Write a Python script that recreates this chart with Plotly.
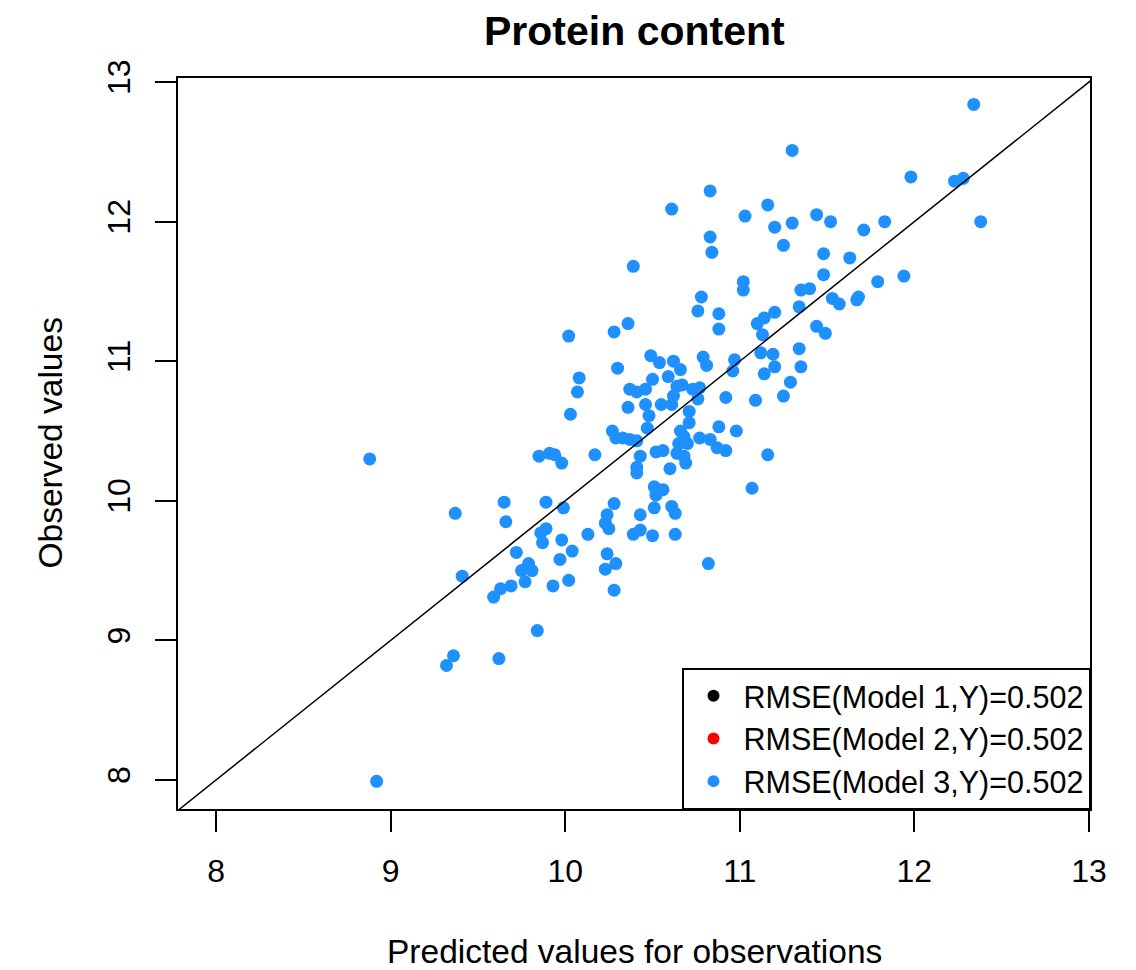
import plotly.graph_objects as go

# Predicted (x) and observed (y) values
predicted = [
    8.88, 9.85, 9.91, 9.94, 9.98, 9.37, 9.65, 9.89, 9.66, 9.99,
    9.89, 9.86, 9.87, 9.98, 9.72, 9.79, 9.75, 9.81, 9.77, 9.97,
    9.93, 9.41, 9.69, 9.63, 9.59, 9.84, 9.36, 9.32, 9.62, 8.92,
    10.76, 10.88, 10.88, 11.10, 10.02, 10.28, 10.36, 11.13, 10.49, 10.54,
    10.62, 10.66, 10.79, 10.81, 10.97, 10.96, 11.12, 10.30, 10.59, 10.50,
    10.08, 10.07, 10.37, 10.41, 10.46, 10.64, 10.67, 10.62, 10.73, 10.77,
    10.76, 10.92, 11.09, 10.36, 10.46, 10.48, 10.55, 10.61, 10.03, 10.71,
    10.71, 10.47, 10.88, 10.98, 10.27, 10.29, 10.33, 10.37, 10.41, 10.66,
    10.68, 10.65, 10.70, 10.77, 10.83, 10.87, 10.92, 10.17, 10.43, 10.52,
    10.56, 10.64, 10.68, 10.69, 10.60, 10.41, 10.41, 11.07, 10.28, 10.51,
    10.56, 10.52, 10.51, 10.61, 10.63, 10.43, 10.24, 10.23, 10.25, 10.13,
    10.43, 10.39, 10.50, 10.63, 10.04, 10.24, 10.29, 10.23, 10.82, 10.02,
    10.28, 11.98, 12.23, 12.28, 11.16, 11.03, 11.44, 11.52, 11.20, 11.30,
    11.71, 11.83, 12.38, 11.25, 11.48, 11.63, 11.48, 11.02, 11.02, 11.94,
    11.79, 11.35, 11.40, 11.53, 11.57, 11.67, 11.68, 11.34, 11.20, 11.14,
    11.44, 11.49, 11.19, 11.34, 11.20, 11.14, 11.35, 11.29, 11.25, 11.16,
    10.83, 10.61, 10.83, 10.84, 10.39, 10.78, 12.34, 11.30,
]
observed = [
    10.30, 10.32, 10.34, 10.33, 10.27, 9.91, 9.99, 9.99, 9.85, 9.95,
    9.80, 9.77, 9.70, 9.72, 9.63, 9.55, 9.50, 9.50, 9.42, 9.58,
    9.39, 9.46, 9.39, 9.37, 9.31, 9.07, 8.89, 8.82, 8.87, 7.99,
    11.36, 11.34, 11.23, 11.27, 11.18, 11.21, 11.27, 11.19, 11.04, 10.99,
    11.00, 10.94, 11.03, 10.97, 11.01, 10.93, 11.06, 10.95, 10.89, 10.87,
    10.88, 10.78, 10.80, 10.78, 10.80, 10.82, 10.83, 10.75, 10.80, 10.81,
    10.73, 10.74, 10.72, 10.67, 10.69, 10.61, 10.69, 10.69, 10.62, 10.64,
    10.56, 10.52, 10.53, 10.50, 10.50, 10.45, 10.45, 10.44, 10.43, 10.50,
    10.46, 10.41, 10.41, 10.45, 10.44, 10.38, 10.36, 10.33, 10.32, 10.35,
    10.36, 10.34, 10.32, 10.27, 10.23, 10.24, 10.20, 10.09, 9.98, 10.10,
    10.08, 10.04, 9.95, 9.96, 9.91, 9.90, 9.90, 9.84, 9.80, 9.76,
    9.79, 9.76, 9.75, 9.76, 9.64, 9.62, 9.55, 9.51, 9.55, 9.43,
    9.36, 12.32, 12.29, 12.31, 12.12, 12.04, 12.05, 12.00, 11.96, 11.99,
    11.94, 12.00, 12.00, 11.83, 11.77, 11.74, 11.62, 11.57, 11.51, 11.61,
    11.57, 11.51, 11.52, 11.45, 11.41, 11.44, 11.46, 11.39, 11.35, 11.31,
    11.25, 11.20, 11.05, 11.09, 10.96, 10.91, 10.96, 10.85, 10.75, 10.33,
    12.22, 12.09, 11.89, 11.78, 11.68, 11.46, 12.84, 12.51,
]

legend_labels = [
    "RMSE(Model 1,Y)=0.502",
    "RMSE(Model 2,Y)=0.502",
    "RMSE(Model 3,Y)=0.502",
]
legend_colors = ["black", "red", "#1E90FF"]
tick_values = [8, 9, 10, 11, 12, 13]
x_range = [7.782, 13.006]
y_range = [7.792, 13.029]

FONT = "Liberation Sans, Arial, sans-serif"

fig = go.Figure()

# Legend-only entries for models 1 and 2
for lab, col in zip(legend_labels[:2], legend_colors[:2]):
    fig.add_trace(go.Scatter(
        x=[None], y=[None], mode="markers", name=lab,
        marker=dict(color=col, size=13),
    ))

fig.add_trace(go.Scatter(
    x=predicted, y=observed, mode="markers", name=legend_labels[2],
    marker=dict(color=legend_colors[2], size=13, line=dict(width=0)),
))

# identity line y = x
fig.add_trace(go.Scatter(
    x=[7.0, 14.0], y=[7.0, 14.0], mode="lines",
    line=dict(color="black", width=1.5), showlegend=False, hoverinfo="skip",
))

axis_common = dict(
    tickvals=tick_values,
    ticks="outside", ticklen=21, tickwidth=1.5, tickcolor="black",
    showline=True, linecolor="black", linewidth=1.5, mirror=True,
    showgrid=False, zeroline=False,
    tickfont=dict(family=FONT, size=32, color="black"),
)

fig.update_layout(
    width=1128, height=962,
    margin=dict(l=170, r=46, t=70, b=161),
    plot_bgcolor="white", paper_bgcolor="white",
    font=dict(family=FONT, color="black"),
    xaxis=dict(range=x_range, ticklabelstandoff=12, **axis_common),
    yaxis=dict(range=y_range, tickangle=-90, ticklabelstandoff=12, **axis_common),
    showlegend=True,
    legend=dict(
        x=1.0, y=0.0, xanchor="right", yanchor="bottom",
        bgcolor="white", bordercolor="black", borderwidth=1.5,
        font=dict(family=FONT, size=30.5, color="black"),
        itemsizing="constant", itemwidth=50, traceorder="normal",
    ),
    annotations=[
        dict(text="<b>Protein content</b>", xref="paper", yref="paper",
             x=0.5, y=1.0, yshift=47, xanchor="center", yanchor="middle",
             showarrow=False, font=dict(family=FONT, size=41, color="black")),
        dict(text="Predicted values for observations", xref="paper", yref="paper",
             x=0.5, y=0.0, yshift=-142, xanchor="center", yanchor="middle",
             showarrow=False, font=dict(family=FONT, size=33.5, color="black")),
        dict(text="Observed values", xref="paper", yref="paper",
             x=0.0, y=0.5, xshift=-128, xanchor="center", yanchor="middle",
             textangle=-90,
             showarrow=False, font=dict(family=FONT, size=33.5, color="black")),
    ],
)

fig.write_html("out.html")
